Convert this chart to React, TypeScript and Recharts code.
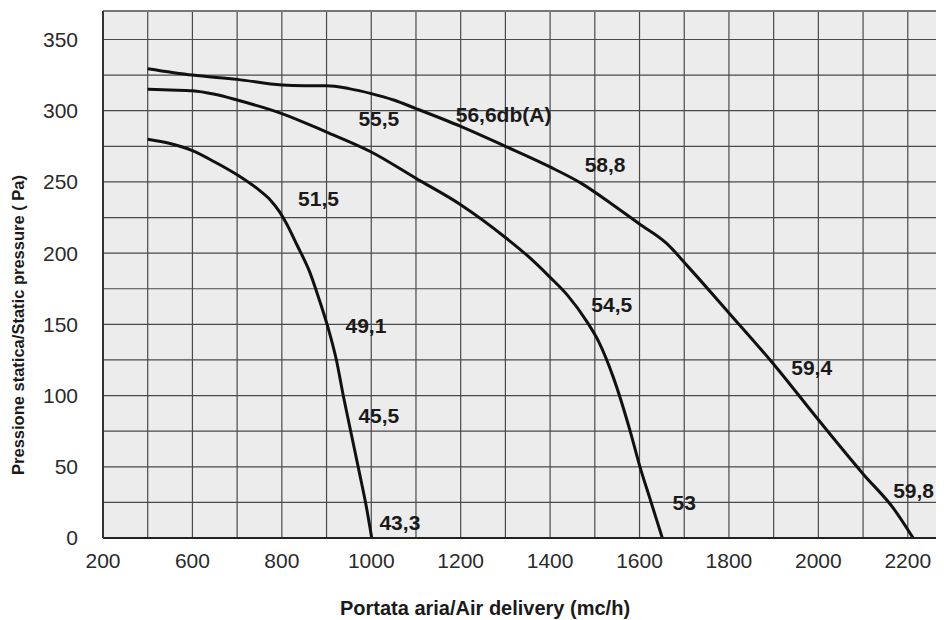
import { CartesianGrid, Line, LineChart, ReferenceDot, ReferenceLine, XAxis, YAxis } from "recharts";

const xTicks = [400, 500, 600, 700, 800, 900, 1000, 1100, 1200, 1300, 1400, 1500, 1600, 1700, 1800, 1900, 2000, 2100, 2200];
const xTickLabels = ["200", "", "600", "", "800", "", "1000", "", "1200", "", "1400", "", "1600", "", "1800", "", "2000", "", "2200"];
const yTicks = [0, 25, 50, 75, 100, 125, 150, 175, 200, 225, 250, 275, 300, 325, 350];
const yTickLabels = ["0", "", "50", "", "100", "", "150", "", "200", "", "250", "", "300", "", "350"];

// portata (mc/h) -> pressione (Pa)
const lowCurve = [
  { q: 500, p: 280 }, { q: 550, p: 277 }, { q: 600, p: 272 }, { q: 650, p: 264 },
  { q: 700, p: 255 }, { q: 750, p: 244 }, { q: 775, p: 237 }, { q: 795, p: 229 },
  { q: 810, p: 221 }, { q: 835, p: 205 }, { q: 862, p: 187 }, { q: 883, p: 168 },
  { q: 903, p: 148 }, { q: 922, p: 125 }, { q: 938, p: 99 }, { q: 956, p: 72 },
  { q: 974, p: 45 }, { q: 989, p: 22 }, { q: 1001, p: 0 },
];
const midCurve = [
  { q: 500, p: 315 }, { q: 550, p: 314.5 }, { q: 600, p: 314 }, { q: 650, p: 311.5 },
  { q: 700, p: 307.5 }, { q: 800, p: 298 }, { q: 900, p: 285 }, { q: 1000, p: 271 },
  { q: 1100, p: 252.5 }, { q: 1200, p: 234 }, { q: 1300, p: 211 }, { q: 1350, p: 198 },
  { q: 1400, p: 183 }, { q: 1440, p: 170 }, { q: 1480, p: 153 }, { q: 1510, p: 137 },
  { q: 1540, p: 114 }, { q: 1580, p: 74 }, { q: 1600, p: 51 }, { q: 1625, p: 26 },
  { q: 1651, p: 0 },
];
const highCurve = [
  { q: 500, p: 329.5 }, { q: 600, p: 325 }, { q: 700, p: 322 }, { q: 800, p: 318 },
  { q: 850, p: 317.5 }, { q: 900, p: 317.5 }, { q: 950, p: 315.5 }, { q: 1000, p: 312 },
  { q: 1050, p: 307.5 }, { q: 1100, p: 301.5 }, { q: 1200, p: 289 }, { q: 1300, p: 275 },
  { q: 1400, p: 260.5 }, { q: 1470, p: 249 }, { q: 1540, p: 234 }, { q: 1600, p: 220.5 },
  { q: 1660, p: 207 }, { q: 1710, p: 190 }, { q: 1800, p: 158 }, { q: 1900, p: 122 },
  { q: 2000, p: 83 }, { q: 2100, p: 45 }, { q: 2170, p: 20 }, { q: 2212, p: 0 },
];

const noiseLabels = [
  { text: "56,6db(A)", q: 1296, p: 297 },
  { text: "58,8", q: 1523, p: 262 },
  { text: "55,5", q: 1017, p: 294.5 },
  { text: "51,5", q: 882, p: 238 },
  { text: "49,1", q: 988, p: 149 },
  { text: "45,5", q: 1017, p: 86 },
  { text: "43,3", q: 1064, p: 11 },
  { text: "54,5", q: 1538, p: 164 },
  { text: "53", q: 1700, p: 25 },
  { text: "59,4", q: 1985, p: 120 },
  { text: "59,8", q: 2213, p: 33 },
];

const font = "'Liberation Sans', Arial, Helvetica, sans-serif";

export default function App() {
  return (
    <div style={{ position: "relative", width: 936, height: 612, fontFamily: font }}>
      <LineChart width={936} height={612} margin={{ top: 3, right: 0, left: 0, bottom: 0 }}>
        <CartesianGrid fill="#ececec" fillOpacity={1} stroke="#4a4a4a" strokeWidth={1.2} />
        <XAxis
          type="number"
          dataKey="q"
          domain={[400, 2281]}
          allowDataOverflow
          ticks={xTicks}
          interval={0}
          height={82}
          tickLine={false}
          tickSize={0}
          tickMargin={15}
          axisLine={{ stroke: "#222", strokeWidth: 2 }}
          tick={{ fontSize: 21, fill: "#2a2a2a", fontFamily: font }}
          tickFormatter={(v: number) => xTickLabels[xTicks.indexOf(v)] ?? ""}
        />
        <YAxis
          type="number"
          dataKey="p"
          domain={[0, 370]}
          allowDataOverflow
          ticks={yTicks}
          interval={0}
          width={95}
          tickLine={false}
          tickSize={0}
          tickMargin={25}
          axisLine={{ stroke: "#333", strokeWidth: 2 }}
          tick={{ fontSize: 21, fill: "#2a2a2a", fontFamily: font }}
          tickFormatter={(v: number) => yTickLabels[yTicks.indexOf(v)] ?? ""}
        />
        <ReferenceLine y={370} stroke="#777" strokeWidth={2} />
        <Line data={lowCurve} dataKey="p" type="monotone" stroke="#111" strokeWidth={3} dot={false} isAnimationActive={false} />
        <Line data={midCurve} dataKey="p" type="monotone" stroke="#111" strokeWidth={3} dot={false} isAnimationActive={false} />
        <Line data={highCurve} dataKey="p" type="monotone" stroke="#111" strokeWidth={3} dot={false} isAnimationActive={false} />
        {noiseLabels.map((l) => (
          <ReferenceDot
            key={l.text}
            x={l.q}
            y={l.p}
            r={0}
            ifOverflow="visible"
            fill="none"
            stroke="none"
            label={{ value: l.text, position: "center", fontSize: 21, fontWeight: 700, fill: "#1a1a1a", fontFamily: font }}
          />
        ))}
      </LineChart>
      <div
        style={{
          position: "absolute",
          left: 10,
          top: 317,
          transform: "translate(-50%, -50%) rotate(-90deg)",
          whiteSpace: "nowrap",
          fontSize: 16.5,
          fontWeight: 700,
          lineHeight: 1,
          color: "#1a1a1a",
        }}
      >
        Pressione statica/Static pressure ( Pa)
      </div>
      <div
        style={{
          position: "absolute",
          left: 477,
          top: 590,
          transform: "translateX(-50%)",
          whiteSpace: "nowrap",
          fontSize: 20,
          fontWeight: 700,
          lineHeight: 1,
          color: "#1a1a1a",
        }}
      >
        Portata aria/Air delivery (mc/h)
      </div>
    </div>
  );
}
